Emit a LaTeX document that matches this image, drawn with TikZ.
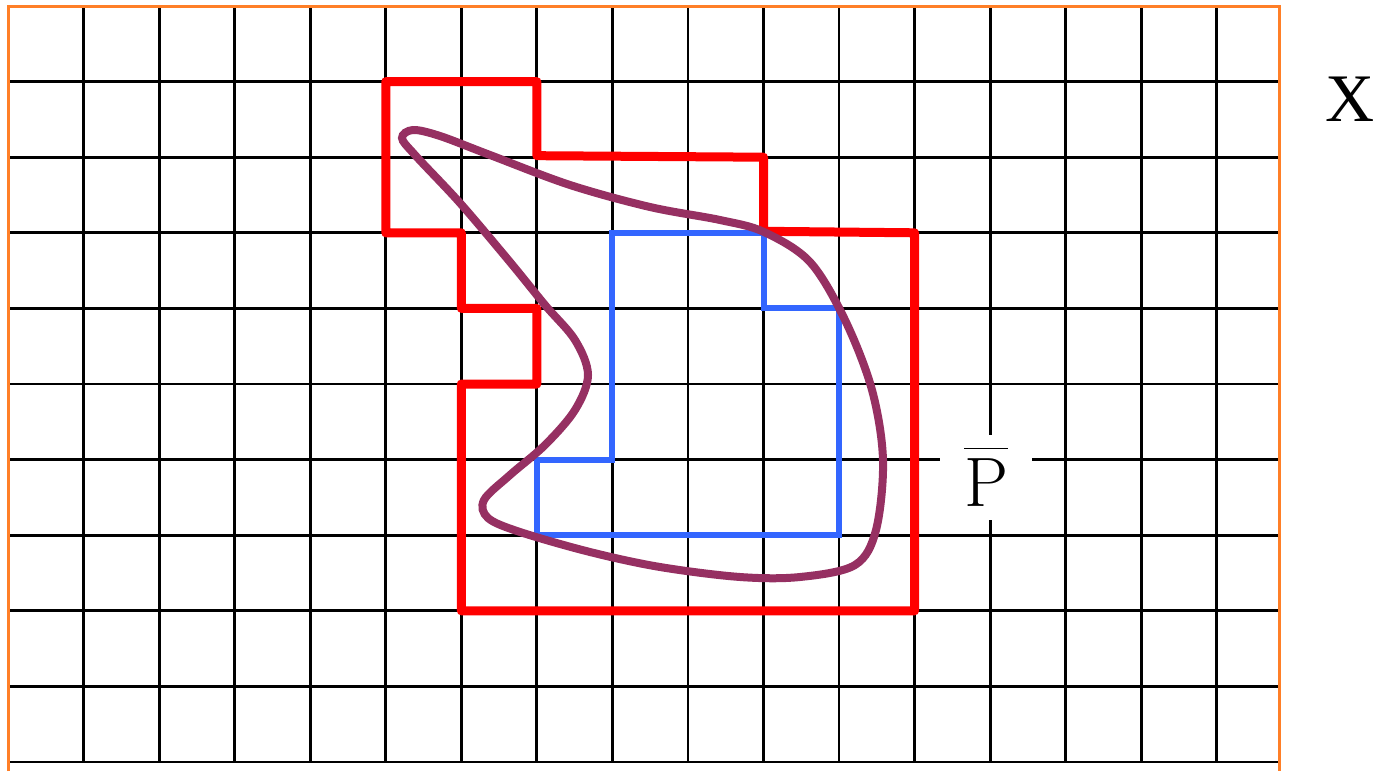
\documentclass[tikz,border=0pt]{standalone}
\usepackage{fontspec}
\newfontfamily\tnr{Liberation Serif}
\definecolor{gridorange}{RGB}{255,127,39}
\definecolor{regionred}{RGB}{255,0,0}
\definecolor{innerblue}{RGB}{51,102,255}
\definecolor{curvepurple}{RGB}{150,48,98}
\tikzset{
  gridline/.style={black, line width=2.8pt},
  frameline/.style={gridorange, line width=3pt},
  outerpoly/.style={regionred, line width=9pt, line join=round},
  innerpoly/.style={innerblue, line width=6pt, line join=miter},
  setcurve/.style={curvepurple, line width=8pt},
  biglabel/.style={inner sep=0pt, font=\fontsize{68}{68}\selectfont}
}
\begin{document}
\begin{tikzpicture}[x=1pt, y=-1pt]
\useasboundingbox (0,0) rectangle (1378,771);
\fill[white] (0,0) rectangle (1378,771);
% grid
\foreach \k in {1,...,16} {
  \draw[gridline] ({8+75.55*\k},6) -- ({8+75.55*\k},762);
}
\foreach \k in {1,...,10} {
  \draw[gridline] (8,{6+75.6*\k}) -- (1279,{6+75.6*\k});
}
% frame
\draw[frameline] (8,771) -- (8,6) -- (1279,6) -- (1279,771);
% outer red polygon and inner blue polygon
\begin{scope}[shift={(8,6)}, x=75.55pt, y=-75.6pt]
\draw[outerpoly] (5,1) -- (7,1) -- (7,1.98) -- (10,2) -- (10,2.98) -- (12,3) -- (12,8) -- (6,8) -- (6,5) -- (7,5) -- (7,4) -- (6,4) -- (6,3) -- (5,3) -- cycle;
\draw[innerpoly] (8,3) -- (10,3) -- (10,4) -- (11,4) -- (11,7) -- (7,7) -- (7,6) -- (8,6) -- cycle;
\end{scope}
% curve
\draw[setcurve] plot[smooth cycle, tension=0.55] coordinates {
(440,136) (490,155) (570,185) (650,207) (720,220) (764,232) (810,262) (845,320)
(872,390) (883,460) (876,530) (855,565) (800,577) (740,577) (660,567) (590,552)
(520,532) (488,518) (484,500) (510,475) (545,445) (575,410) (588,375) (575,340)
(545,305) (510,262) (460,203) (415,155) (402,138) (413,130)};
% labels
\node[biglabel, fill=white, minimum width=92pt, minimum height=85pt, font=\fontsize{70}{70}\selectfont] (pbar) at (986,477) {$\overline{\mathrm{P}\rule{0pt}{0.8em}}$};
\node[biglabel, font=\tnr\fontsize{68}{68}\selectfont] (xlabel) at (1350,99) {X};
\end{tikzpicture}
\end{document}
